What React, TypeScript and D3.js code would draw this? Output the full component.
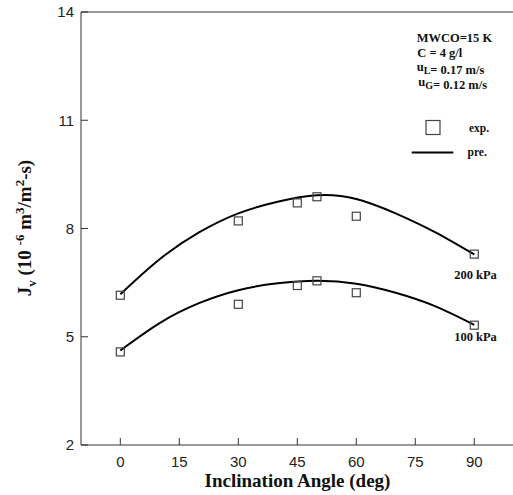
import React from "react";
import * as d3 from "d3";

const xTicks = [0, 15, 30, 45, 60, 75, 90];
const yTicks = [2, 5, 8, 11, 14];
const expAngles = [0, 30, 45, 50, 60, 90];
const exp200 = [6.15, 8.21, 8.71, 8.88, 8.34, 7.29];
const exp100 = [4.58, 5.9, 6.42, 6.55, 6.22, 5.32];
const predAngles = [0, 10, 20, 30, 40, 50, 60, 70, 80, 90];
const pred200 = [6.18, 7.15, 7.89, 8.42, 8.74, 8.92, 8.82, 8.42, 7.9, 7.28];
const pred100 = [4.62, 5.38, 5.93, 6.29, 6.48, 6.55, 6.47, 6.22, 5.85, 5.33];
const seriesLabels = ["200 kPa", "100 kPa"];

const W = 513;
const H = 495;
const L = 81, R = 513, T = 12, B = 445;

export default function App() {
  const x = d3.scaleLinear().domain([-10, 100]).range([L, R + 0.6]);
  const y = d3.scaleLinear().domain([2, 14]).range([B, T]);
  const line = d3
    .line<number>()
    .x((_, i) => x(predAngles[i]))
    .y((d) => y(d))
    .curve(d3.curveNatural);
  const serif = "'Liberation Serif', 'Times New Roman', serif";
  const sans = "'Liberation Sans', Arial, sans-serif";
  const sq = 8;
  const markers = (vals: number[], key: string) =>
    vals.map((v, i) => (
      <rect
        key={key + i}
        x={x(expAngles[i]) - sq / 2}
        y={y(v) - sq / 2}
        width={sq}
        height={sq}
        fill="none"
        stroke="#444"
        strokeWidth={1.2}
      />
    ));
  return (
    <div style={{ position: "absolute", left: 0, top: 0 }}>
      <svg width={W} height={H} style={{ display: "block", background: "#fff" }}>
        {/* frame */}
        <line x1={L} x2={R} y1={T} y2={T} stroke="#333" strokeWidth={1} />
        <line x1={L} x2={R} y1={B} y2={B} stroke="#333" strokeWidth={1} />
        <line x1={L} x2={L} y1={T} y2={B} stroke="#333" strokeWidth={1} />
        {/* x ticks */}
        {xTicks.map((t) => (
          <g key={"xt" + t}>
            <line x1={x(t)} x2={x(t)} y1={B} y2={B - 7} stroke="#333" strokeWidth={1} />
            <text x={x(t)} y={466.5} textAnchor="middle" fontFamily={sans} fontSize={15} fill="#222">
              {t}
            </text>
          </g>
        ))}
        {/* y ticks */}
        {yTicks.map((t) => (
          <g key={"yt" + t}>
            <line x1={L} x2={L + 7} y1={y(t)} y2={y(t)} stroke="#333" strokeWidth={1} />
            <text x={74} y={y(t)} dy="0.36em" textAnchor="end" fontFamily={sans} fontSize={15} fill="#222">
              {t}
            </text>
          </g>
        ))}
        {/* axis titles */}
        <text x={297.5} y={486.5} textAnchor="middle" fontFamily={serif} fontWeight="bold" fontSize={19} fill="#111">
          Inclination Angle (deg)
        </text>
        <text
          transform={`translate(31,228) rotate(-90)`}
          textAnchor="middle"
          fontFamily={serif}
          fontWeight="bold"
          fontSize={19}
          fill="#111"
        >
          <tspan>J</tspan>
          <tspan fontSize={13} dy={5}>v</tspan>
          <tspan dy={-5}> (10 </tspan>
          <tspan fontSize={13} dy={-7}>-6</tspan>
          <tspan dy={7}> m</tspan>
          <tspan fontSize={13} dy={-7}>3</tspan>
          <tspan dy={7}>/m</tspan>
          <tspan fontSize={13} dy={-7}>2</tspan>
          <tspan dy={7}>-s)</tspan>
        </text>
        {/* curves */}
        <path d={line(pred200) || ""} fill="none" stroke="#000" strokeWidth={2} />
        <path d={line(pred100) || ""} fill="none" stroke="#000" strokeWidth={2} />
        {markers(exp200, "a")}
        {markers(exp100, "b")}
        {/* series labels */}
        <text x={475.5} y={279} textAnchor="middle" fontFamily={serif} fontWeight="bold" fontSize={12.5} fill="#111">
          {seriesLabels[0]}
        </text>
        <text x={475.5} y={340.5} textAnchor="middle" fontFamily={serif} fontWeight="bold" fontSize={12.5} fill="#111">
          {seriesLabels[1]}
        </text>
        {/* legend block */}
        <g fontFamily={serif} fontWeight="bold" fontSize={12.5} fill="#111">
          <text x={416.7} y={41.7}>MWCO=15 K</text>
          <text x={417.3} y={56.5}>C = 4 g/l</text>
          <text x={416.7} y={73.5}>
            <tspan dy={-3}>u</tspan>
            <tspan dy={3} fontSize={10}>L</tspan>
            <tspan>= 0.17 m/s</tspan>
          </text>
          <text x={418.3} y={88.5}>
            <tspan dy={-3}>u</tspan>
            <tspan dy={3} fontSize={10}>G</tspan>
            <tspan>= 0.12 m/s</tspan>
          </text>
          <rect x={426} y={120.5} width={14} height={14} fill="none" stroke="#444" strokeWidth={1.2} />
          <text x={469} y={131.7} fontSize={11.5}>exp.</text>
          <line x1={411.7} x2={453.3} y1={152.5} y2={152.5} stroke="#000" strokeWidth={2} />
          <text x={467.5} y={155.5} fontSize={11.5}>pre.</text>
        </g>
      </svg>
    </div>
  );
}
